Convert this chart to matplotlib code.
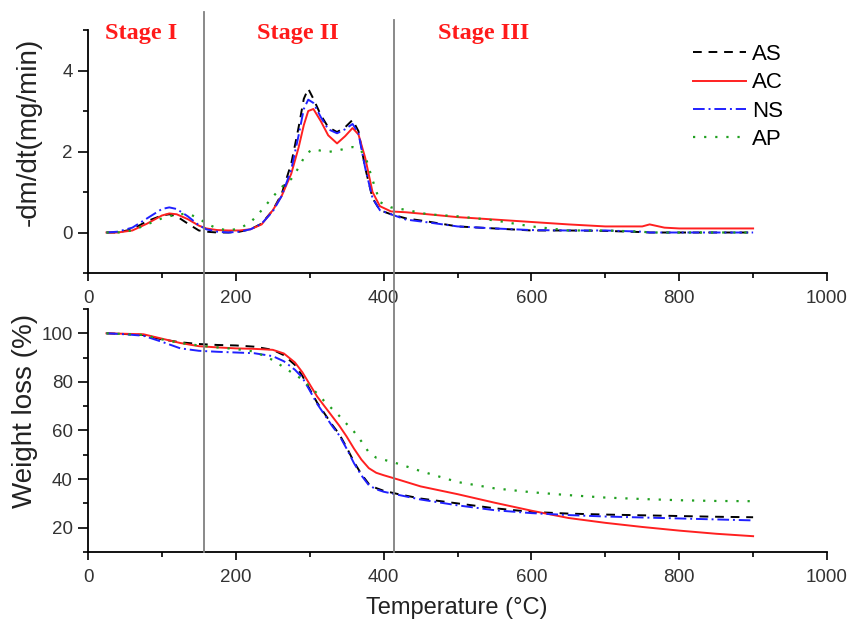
import matplotlib
matplotlib.use("Agg")
import matplotlib.pyplot as plt
from matplotlib.ticker import MultipleLocator

# ---------------- data ----------------
series = ["AS", "AC", "NS", "AP"]

T_dtg = [25, 40, 60, 80, 100, 110, 120, 135, 150, 160, 175, 190, 205, 220, 235,
         250, 262, 275, 285, 292, 298, 305, 315, 325, 337, 348, 358, 366, 375,
         385, 395, 410, 430, 460, 500, 550, 600, 650, 700, 750, 760, 780, 800,
         850, 900]
dtg_AS = [0, 0, 0.08, 0.28, 0.42, 0.45, 0.40, 0.22, 0.05, 0.02, 0.0, 0.0, 0.02,
          0.08, 0.22, 0.55, 0.95, 1.70, 2.60, 3.30, 3.55, 3.30, 2.90, 2.60, 2.48,
          2.60, 2.78, 2.50, 1.60, 0.85, 0.55, 0.45, 0.35, 0.27, 0.15, 0.10, 0.05,
          0.05, 0.04, 0.01, 0.0, 0.0, 0.0, 0.0, 0.0]
dtg_AC = [0, 0, 0.05, 0.22, 0.42, 0.47, 0.45, 0.33, 0.17, 0.10, 0.06, 0.05, 0.05,
          0.08, 0.20, 0.55, 0.90, 1.45, 2.10, 2.65, 3.00, 3.05, 2.75, 2.40, 2.20,
          2.38, 2.58, 2.42, 1.85, 1.00, 0.65, 0.52, 0.50, 0.45, 0.38, 0.32, 0.26,
          0.20, 0.15, 0.15, 0.20, 0.12, 0.10, 0.10, 0.10]
dtg_NS = [0, 0.02, 0.12, 0.35, 0.58, 0.62, 0.58, 0.40, 0.18, 0.08, 0.02, 0.0, 0.02,
          0.08, 0.22, 0.52, 0.90, 1.55, 2.40, 3.05, 3.28, 3.20, 2.85, 2.55, 2.45,
          2.55, 2.68, 2.45, 1.60, 0.85, 0.55, 0.45, 0.32, 0.25, 0.15, 0.10, 0.06,
          0.05, 0.05, 0.02, 0.0, 0.0, 0.0, 0.0, 0.0]
dtg_AP = [0, 0, 0.05, 0.20, 0.35, 0.40, 0.44, 0.47, 0.35, 0.22, 0.10, 0.05, 0.10,
          0.25, 0.55, 0.88, 1.12, 1.32, 1.60, 1.84, 1.98, 2.06, 2.02, 1.99, 2.02,
          2.07, 2.11, 2.08, 1.90, 1.30, 0.75, 0.62, 0.56, 0.45, 0.40, 0.30, 0.15,
          0.05, 0.05, 0.02, 0.0, 0.0, 0.0, 0.0, 0.0]

T_tg = [25, 50, 75, 100, 125, 150, 175, 200, 225, 250, 265, 280, 290, 300, 310,
        320, 330, 340, 350, 360, 370, 380, 390, 400, 420, 450, 500, 550, 600,
        650, 700, 750, 800, 850, 900]
tg_AS = [100, 99.7, 99.3, 97.5, 96.3, 95.6, 95.2, 95.0, 94.5, 93.2, 91.0, 87.0,
         82.5, 77.0, 71.5, 67.0, 62.5, 58.5, 53.0, 47.0, 42.0, 38.0, 36.3, 35.2,
         33.8, 32.0, 30.0, 28.0, 26.5, 25.8, 25.4, 25.1, 24.8, 24.5, 24.3]
tg_AC = [100, 99.8, 99.6, 97.8, 96.0, 94.7, 94.2, 93.8, 93.6, 93.2, 91.7, 88.0,
         84.0, 79.0, 74.0, 70.0, 66.0, 62.0, 57.5, 52.5, 48.0, 44.5, 42.6, 41.6,
         39.8, 37.0, 33.8, 30.3, 27.0, 24.0, 22.0, 20.3, 18.8, 17.5, 16.5]
tg_NS = [100, 99.6, 99.0, 96.5, 93.8, 92.8, 92.4, 92.1, 91.8, 90.6, 88.5, 85.0,
         81.8, 76.5, 71.0, 66.5, 62.0, 58.0, 52.5, 46.5, 41.5, 37.5, 35.8, 34.8,
         33.5, 31.6, 29.2, 27.2, 26.0, 25.2, 24.6, 24.2, 23.8, 23.4, 23.0]
tg_AP = [100, 99.7, 99.3, 97.5, 96.0, 95.0, 94.2, 93.5, 92.5, 89.0, 86.0, 83.0,
         81.0, 78.0, 75.3, 72.0, 69.0, 66.0, 62.7, 59.5, 55.5, 51.0, 48.8, 48.0,
         46.3, 43.3, 38.8, 36.2, 34.6, 33.4, 32.4, 31.8, 31.3, 31.0, 30.9]

stage_bounds = [157, 414]
stage_labels = ["Stage I", "Stage II", "Stage III"]

# ---------------- styles ----------------
styles = {
    "AS": dict(color="black", ls=(0, (4.5, 3.5)), lw=1.4),
    "AC": dict(color="#ff2020", ls="-", lw=1.4),
    "NS": dict(color="#2020ff", ls=(0, (6, 2, 1, 2)), lw=1.4),
    "AP": dict(color="#20a020", ls=(0, (1, 4)), lw=1.6),
}
dtg = {"AS": dtg_AS, "AC": dtg_AC, "NS": dtg_NS, "AP": dtg_AP}
tg = {"AS": tg_AS, "AC": tg_AC, "NS": tg_NS, "AP": tg_AP}

plt.rcParams["font.family"] = ["Liberation Sans", "DejaVu Sans"]

fig = plt.figure(figsize=(8.47, 6.24), dpi=100)
ax1 = fig.add_axes([0.1039, 0.5625, 0.8725, 0.3894])
ax2 = fig.add_axes([0.1039, 0.1154, 0.8725, 0.3894])

handles = []
for s in series:
    h, = ax1.plot(T_dtg, dtg[s], label=s, **styles[s])
    handles.append(h)
    ax2.plot(T_tg, tg[s], **styles[s])

ax1.set_xlim(0, 1000)
ax1.set_ylim(-1, 5)
ax2.set_xlim(0, 1000)
ax2.set_ylim(10, 110)

ax1.yaxis.set_major_locator(MultipleLocator(2))
ax1.yaxis.set_minor_locator(MultipleLocator(1))
ax2.yaxis.set_major_locator(MultipleLocator(20))
ax2.yaxis.set_minor_locator(MultipleLocator(10))
for ax in (ax1, ax2):
    ax.xaxis.set_major_locator(MultipleLocator(200))
    ax.xaxis.set_minor_locator(MultipleLocator(100))
    for sp in ("top", "right"):
        ax.spines[sp].set_visible(False)
    for sp in ("left", "bottom"):
        ax.spines[sp].set_linewidth(1.3)
    ax.tick_params(which="both", direction="out", width=1.2, labelsize=13.5,
                   labelcolor="#333333")
    ax.tick_params(axis="x", which="major", length=6, pad=6)
    ax.tick_params(axis="y", which="major", length=7, pad=4)
    ax.tick_params(which="minor", length=3.5)

# stage boundary lines spanning both panels
for xb, top in zip(stage_bounds, [2.222, 2.189]):
    ax2.axvline(xb, ymin=0, ymax=top, color="#808080", lw=1.3, clip_on=False,
                zorder=5)

# stage labels
for lab, xp in zip(stage_labels, [105, 257, 438]):
    fig.text(xp / 847, 1 - 33 / 624, lab, color="#ff1a1a", fontsize=17.5,
             fontweight="bold", family=["Liberation Serif", "DejaVu Serif"],
             ha="left", va="center")

ax1.legend(handles=handles, loc="upper left", frameon=False, fontsize=16,
           bbox_to_anchor=(693 / 847, 1 - 44 / 624),
           bbox_transform=fig.transFigure, handlelength=2.4,
           handletextpad=0.27, labelspacing=0.33, borderaxespad=0,
           borderpad=0)

fig.text(29 / 847, 1 - 132 / 624, "-dm/dt(mg/min)", rotation=90, fontsize=20,
         ha="center", va="center", color="#222222")
fig.text(25 / 847, 1 - 411 / 624, "Weight loss (%)", rotation=90, fontsize=20,
         ha="center", va="center", color="#222222")
fig.text(457 / 847, 1 - 608 / 624, "Temperature (°C)", fontsize=17,
         ha="center", va="center", color="#222222")

fig.savefig("out.png", dpi=100, facecolor="white")
